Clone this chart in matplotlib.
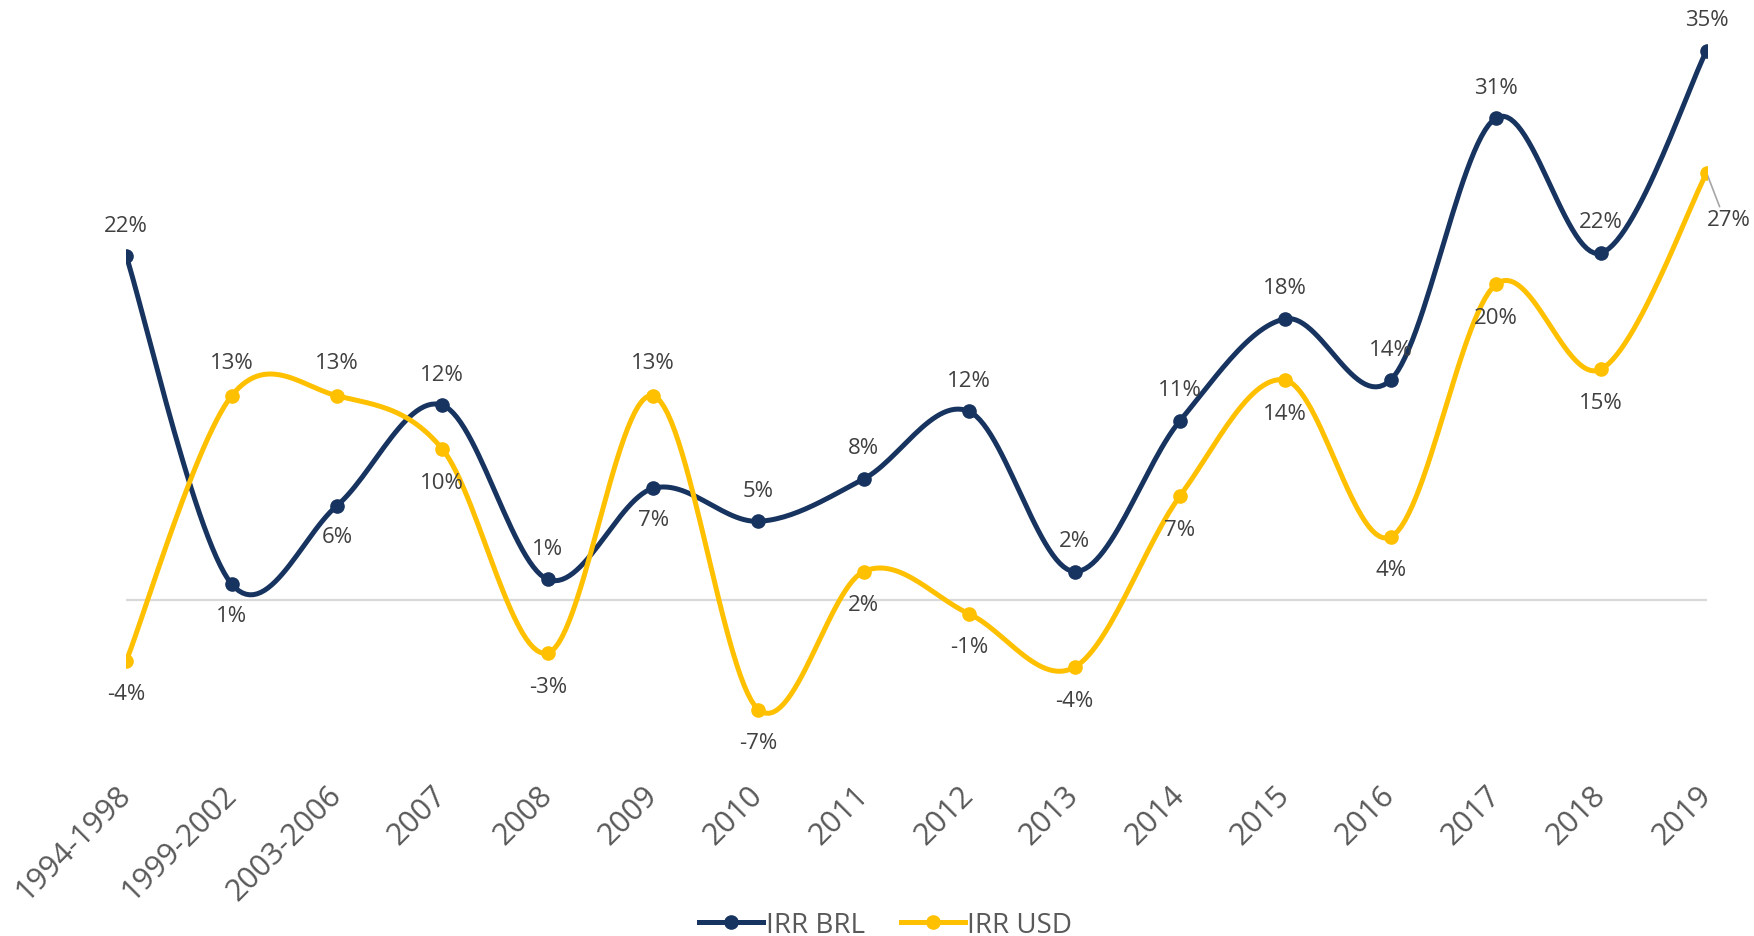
import numpy as np
import matplotlib.pyplot as plt

# categories and values (percent)
periods = ['1994-1998', '1999-2002', '2003-2006', '2007', '2008', '2009', '2010', '2011',
           '2012', '2013', '2014', '2015', '2016', '2017', '2018', '2019']
irr_brl = [21.9, 1.0, 6.0, 12.4, 1.3, 7.1, 5.0, 7.7, 12.0, 1.8, 11.4, 17.9, 14.0, 30.7, 22.1, 35.0]
irr_usd = [-3.9, 13.0, 13.0, 9.6, -3.4, 13.0, -7.0, 1.8, -0.9, -4.3, 6.6, 14.0, 4.0, 20.1, 14.7, 27.2]

# where each data label sits (1 = above, -1 = below, 0 = callout)
brl_side = [1, -1, -1, 1, 1, -1, 1, 1, 1, 1, 1, 1, 1, 1, 1, 1]
usd_side = [-1, 1, 1, -1, -1, 1, -1, -1, -1, -1, -1, -1, -1, -1, -1, 0]

NAVY = '#17335f'
GOLD = '#ffc000'
LABEL = '#404040'


def smooth(x, y, n=30):
    # Excel-style smoothed line (Bezier through the points)
    pts = np.column_stack([x, y]).astype(float)
    P = np.vstack([pts[0], pts, pts[-1]])
    out = []
    t = np.linspace(0, 1, n)[:, None]
    for i in range(1, len(P) - 2):
        p0, p1, p2, p3 = P[i - 1], P[i], P[i + 1], P[i + 2]
        c1 = p1 + (p2 - p0) / 6
        c2 = p2 - (p3 - p1) / 6
        seg = (1 - t) ** 3 * p1 + 3 * (1 - t) ** 2 * t * c1 + 3 * (1 - t) * t ** 2 * c2 + t ** 3 * p2
        out.append(seg)
    s = np.vstack(out)
    return s[:, 0], s[:, 1]


plt.rcParams['font.family'] = ['Open Sans', 'DejaVu Sans']

fig = plt.figure(figsize=(17.54, 9.37), dpi=100)
ax = fig.add_axes([0.072, 0.1914, 0.901, 0.7703])

x = np.arange(len(periods))

ax.axhline(0, color='#d9d9d9', lw=1.6, zorder=1)

for vals, col, name in [(irr_brl, NAVY, 'IRR BRL'), (irr_usd, GOLD, 'IRR USD')]:
    sx, sy = smooth(x, vals)
    ax.plot(sx, sy, color=col, lw=3.6, solid_capstyle='round', zorder=3)
    ax.plot(x, vals, 'o', color=col, ms=9.5, zorder=4)
    # legend handle
    ax.plot([], [], color=col, lw=3.6, marker='o', ms=9.5, label=name)

for i, v in enumerate(irr_brl):
    ax.annotate(f'{round(v):.0f}%', (x[i], v), xytext=(0, 31 * brl_side[i]), textcoords='offset pixels',
                ha='center', va='center', fontsize=16, color=LABEL)

for i, v in enumerate(irr_usd):
    if usd_side[i] == 0:
        ax.annotate(f'{round(v):.0f}%', (x[i], v), xytext=(22, -47), textcoords='offset pixels',
                    ha='center', va='center', fontsize=16, color=LABEL,
                    arrowprops=dict(arrowstyle='-', color='#a6a6a6', lw=1.2,
                                    shrinkA=0, shrinkB=0, relpos=(0.3, 1.1)))
    else:
        ax.annotate(f'{round(v):.0f}%', (x[i], v), xytext=(0, 33 * usd_side[i]), textcoords='offset pixels',
                    ha='center', va='center', fontsize=16, color=LABEL)

ax.set_xlim(0, 15)
ax.set_ylim(-10, 36)
ax.set_xticks(x)
ax.set_xticklabels(periods, rotation=45, ha='right', va='center', rotation_mode='anchor',
                   fontsize=22, color='#595959')
ax.tick_params(axis='x', length=0, pad=24)
ax.set_yticks([])
for s in ax.spines.values():
    s.set_visible(False)

leg = fig.legend(loc='lower center', bbox_to_anchor=(0.505, -0.03), ncol=2, frameon=False,
                 fontsize=20, handlelength=2.3, handletextpad=0.1, columnspacing=1.3)
for t in leg.get_texts():
    t.set_color('#595959')

fig.savefig('out.png', dpi=100)
